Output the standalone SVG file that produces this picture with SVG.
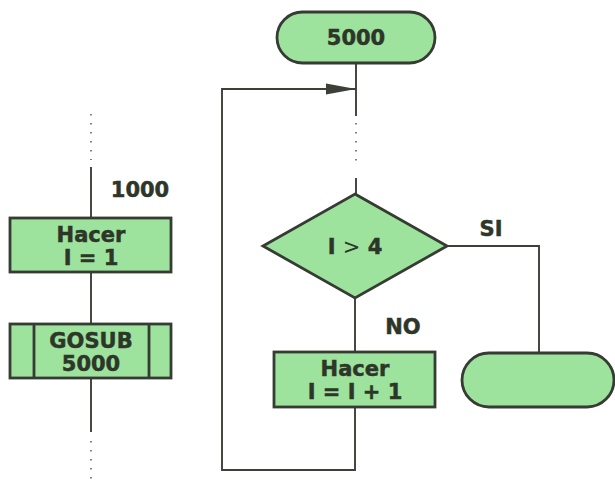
<svg xmlns="http://www.w3.org/2000/svg" width="615" height="483" viewBox="0 0 615 483">
  <style>
    .shape { fill: #9de39d; stroke: #363b33; stroke-width: 2.8; }
    .line { fill: none; stroke: #3c4038; stroke-width: 1.9; }
    .dots { fill: none; stroke: #555; stroke-width: 1.5; stroke-dasharray: 1.5 7.5; }
    .lbl { font-family: "DejaVu Sans", "Liberation Sans", sans-serif; font-weight: bold; font-size: 21px; fill: #2e3629; stroke: #2e3629; stroke-width: 0.5; text-anchor: middle; }
    .thin { font-weight: normal; stroke-width: 0; }
  </style>
  <defs>
    <marker id="arrow" viewBox="0 0 30 12" refX="30" refY="6" markerWidth="30" markerHeight="12" markerUnits="userSpaceOnUse" orient="auto">
      <path d="M0,0.5 L30,6 L0,11.5 Z" fill="#3c4038"/>
    </marker>
  </defs>

  <!-- connectors -->
  <g id="connectors">
    <!-- main program column -->
    <path class="dots" d="M91,114 V160"/>
    <path class="line" d="M91,167 V218"/>
    <path class="line" d="M91,272 V324"/>
    <path class="line" d="M91,378 V432"/>
    <path class="dots" d="M91,441 V482"/>
    <!-- subroutine column -->
    <path class="line" d="M356,63 V116"/>
    <path class="dots" d="M356,123 V163"/>
    <path class="line" d="M356,178 V194"/>
    <path class="line" d="M355,298 V352"/>
    <!-- SI branch -->
    <path class="line" d="M447,246 H539 V353"/>
    <!-- loop back -->
    <path class="line" d="M355,407 V470 H222 V89 H356" marker-end="url(#arrow)"/>
  </g>

  <g id="label-1000">
    <text class="lbl" x="140" y="197">1000</text>
  </g>

  <g id="node-hacer-1">
    <rect class="shape" x="10" y="218" width="161" height="54"/>
    <text class="lbl" x="91" y="242">Hacer</text>
    <text class="lbl" x="91" y="265">I = 1</text>
  </g>

  <g id="node-gosub">
    <rect class="shape" x="10" y="324" width="161" height="54"/>
    <path class="shape" d="M34,324 V378 M149,324 V378" fill="none"/>
    <text class="lbl" x="91" y="348">GOSUB</text>
    <text class="lbl" x="91" y="371">5000</text>
  </g>

  <g id="node-start-5000">
    <rect class="shape" x="277" y="12" width="158" height="51" rx="25.5"/>
    <text class="lbl" x="356" y="45">5000</text>
  </g>

  <g id="node-decision">
    <polygon class="shape" points="355,194 447,246 355,298 263,246"/>
    <text class="lbl" x="355" y="254">I <tspan class="thin">&gt;</tspan> 4</text>
  </g>

  <g id="label-si">
    <text class="lbl" x="491" y="236">SI</text>
  </g>

  <g id="label-no">
    <text class="lbl" x="403" y="334">NO</text>
  </g>

  <g id="node-increment">
    <rect class="shape" x="274" y="352" width="161" height="55"/>
    <text class="lbl" x="355" y="376">Hacer</text>
    <text class="lbl" x="355" y="399">I = I + 1</text>
  </g>

  <g id="node-end">
    <rect class="shape" x="462" y="353" width="152" height="54" rx="27"/>
  </g>
</svg>
